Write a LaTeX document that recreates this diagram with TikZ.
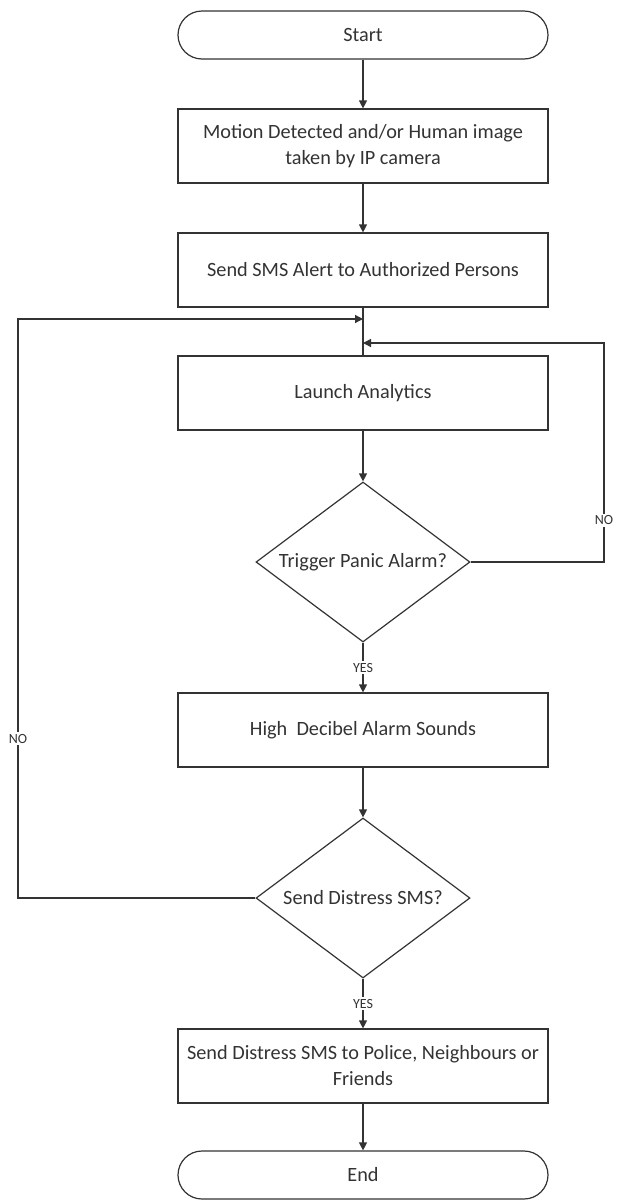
\documentclass[tikz,border=0pt]{standalone}
\usepackage{fontspec}
\setmainfont{Carlito}
\usetikzlibrary{
	arrows.meta,      % punte di freccia (Triangle)
	shapes.geometric  % per i rombi di decisione
}

\begin{document}
\begin{tikzpicture}[
	x=0.75pt, y=-0.75pt,
	color=black!80,
	line width=0.9pt,
	font=\fontsize{15.2}{19.5}\selectfont,
	blocco/.style={draw, rectangle, minimum width=277.5pt, minimum height=55.5pt, align=center, inner sep=0pt},
	terminale/.style={draw, rectangle, rounded corners=18pt, minimum width=277.5pt, minimum height=36pt, inner sep=0pt},
	decisione/.style={draw, diamond, aspect=1.34, minimum width=160.5pt, minimum height=120pt, inner sep=0pt},
	freccia/.style={-{Triangle[length=6pt, width=6pt]}},
	etichetta/.style={font=\fontsize{10.5}{12}\selectfont, fill=white, inner sep=1.5pt}
	]
	
	\useasboundingbox (0,0) rectangle (618,1200);
	
	% --- Blocchi ---
	\node[terminale] (inizio) at (363,35) {Start};
	\node[blocco] (moto) at (363,146) {Motion Detected and/or Human image\\taken by IP camera};
	\node[blocco] (avviso) at (363,270) {Send SMS Alert to Authorized Persons};
	\node[blocco] (analisi) at (363,393) {Launch Analytics};
	\node[decisione] (panico) at (363,562) {Trigger Panic Alarm?};
	\node[blocco] (sirena) at (363,730) {High\ \ Decibel Alarm Sounds};
	\node[decisione] (distress) at (363,898) {Send Distress SMS?};
	\node[blocco] (sms) at (363,1066) {Send Distress SMS to Police, Neighbours or\\Friends};
	\node[terminale] (fine) at (363,1175) {End};
	
	% --- Punti di rientro dei cicli ---
	\coordinate (nodoA) at (363,319);
	\coordinate (nodoB) at (363,343);
	\coordinate (sx) at (18,0);
	\coordinate (dx) at (604,0);
	
	% --- Frecce principali ---
	\draw[freccia] (inizio) -- (moto);
	\draw[freccia] (moto) -- (avviso);
	\draw (avviso) -- (analisi);
	\draw[freccia] (analisi) -- (panico);
	\draw[freccia] (panico) -- node[etichetta] {YES} (sirena);
	\draw[freccia] (sirena) -- (distress);
	\draw[freccia] (distress) -- node[etichetta] {YES} (sms);
	\draw[freccia] (sms) -- (fine);
	
	% --- Cicli NO ---
	\draw[freccia] (panico.east) -- (panico.east -| dx)
		-- node[etichetta, pos=0.19] {NO} (nodoB -| dx) -- (nodoB);
	\draw[freccia] (distress.west) -- (distress.west -| sx)
		-- node[etichetta, pos=0.275] {NO} (nodoA -| sx) -- (nodoA);
	
\end{tikzpicture}
\end{document}
